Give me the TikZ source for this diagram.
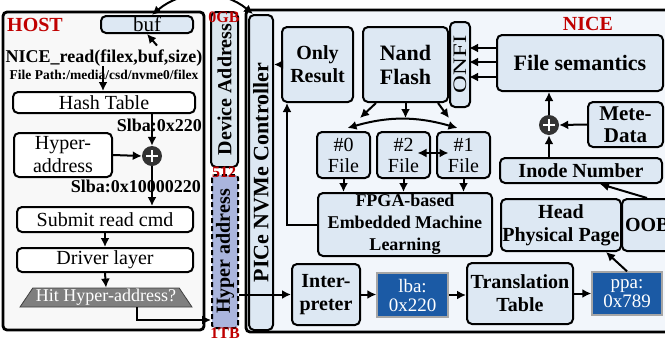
\documentclass[tikz,border=0pt]{standalone}
\usepackage{fontspec}
\setmainfont{Liberation Serif}
\usetikzlibrary{arrows.meta,shapes.geometric,calc}

\definecolor{boxblue}{HTML}{DDE8F3}
\definecolor{devblue}{HTML}{DAE6EE}
\definecolor{hyperblue}{HTML}{AAB5DD}
\definecolor{nicebg}{HTML}{F2F6FB}
\definecolor{hostbg}{HTML}{F8F8F8}
\definecolor{deepblue}{HTML}{1B5AA5}
\definecolor{labelred}{HTML}{C00000}
\definecolor{plusgray}{HTML}{333333}
\definecolor{trapgray}{HTML}{7F7F7F}

\newcommand\fsz[2]{\fontsize{#1}{#2}\selectfont}

\begin{document}
\begin{tikzpicture}[x=1pt,y=-1pt,
  outerbox/.style={draw, line width=2.8pt, rounded corners=4pt, inner sep=0pt},
  bluebox/.style={draw, line width=2pt, rounded corners=5pt, fill=boxblue,
    inner sep=0pt, align=center, font=\bfseries\fsz{20}{23}},
  whitebox/.style={draw, line width=2pt, rounded corners=5pt, fill=white,
    inner sep=0pt, align=center, font=\fsz{20}{23}},
  vbox/.style={draw=black, line width=2pt, rounded corners=5pt, inner sep=0pt,
    rotate=90, font=\bfseries\fsz{20}{22}},
  valbox/.style={draw=gray!70, line width=1.4pt, fill=deepblue, text=white,
    inner sep=0pt, align=center, font=\fsz{19}{19}},
  filebox/.style={bluebox, font=\fsz{20}{21}, minimum width=53, minimum height=46},
  plus/.style={circle, fill=plusgray, minimum size=20pt, inner sep=0pt},
  redlbl/.style={text=labelred, font=\bfseries\fsz{16}{16}, inner sep=0pt},
  txt/.style={inner sep=0pt, font=\bfseries\fsz{18}{18}},
  arr/.style={line width=2pt, -{Latex[length=9pt,width=9pt]}},
  darr/.style={line width=2pt, {Latex[length=9pt,width=9pt]}-{Latex[length=9pt,width=9pt]}},
]
\useasboundingbox (0,0) rectangle (665,341);
\fill[white] (0,0) rectangle (665,341);
\clip (0,0) rectangle (665,341);

% ---------- host side ----------
\node[outerbox, fill=hostbg, minimum width=201, minimum height=318] (host) at (103.5,171) {};
\node[text=labelred, font=\bfseries\fsz{20}{20}, inner sep=0pt, anchor=west] (hostlbl) at (7,25) {HOST};
\node[whitebox, fill=boxblue, font=\fsz{21}{21}, minimum width=92, minimum height=17] (buf) at (147,24.5) {buf};
\node[txt] (readtxt) at (104,58) {NICE\_read(filex,buf,size)};
\node[txt, font=\bfseries\fsz{13.5}{14}] (pathtxt) at (104,75) {File Path:/media/csd/nvme0/filex};
\node[whitebox, minimum width=182, minimum height=21] (hash) at (104,102.5) {Hash Table};
\node[txt, anchor=east] (slba1) at (202,125) {Slba:0x220};
\node[whitebox, font=\fsz{20}{23}, minimum width=98, minimum height=44] (hyper) at (63,155) {Hyper-\\address};
\node[plus] (p1) at (152,156) {};
\node[txt, anchor=east] (slba2) at (201,186) {Slba:0x10000220};
\node[whitebox, minimum width=176, minimum height=25] (submit) at (105,219.5) {Submit read cmd};
\node[whitebox, minimum width=176, minimum height=24] (driver) at (105,260) {Driver layer};
\node[trapezium, trapezium left angle=52, trapezium right angle=52,
  trapezium stretches body, minimum width=172, minimum height=19,
  fill=trapgray, draw=black!75, line width=0.8pt, text=white, inner sep=0pt,
  font=\fsz{18}{18}] (hit) at (106,297.5) {Hit Hyper-address?};

% ---------- address columns ----------
\node[vbox, fill=devblue, minimum width=155, minimum height=27] (devaddr) at (224.5,89.5) {Device Address};
\node[vbox, fill=hyperblue, dashed, dash pattern=on 5pt off 3pt, rounded corners=3pt,
  minimum width=153, minimum height=26] (hyperaddr) at (225,251.5) {Hyper address};
\node[redlbl] (gb0) at (224,17) {0GB};
\node[redlbl] (mid) at (224,172) {512};
\node[redlbl] (tb1) at (225,333) {1TB};

% ---------- device side ----------
\node[outerbox, fill=nicebg, minimum width=444, minimum height=322] (nice) at (468,171) {};
\node[text=labelred, font=\bfseries\fsz{20}{20}, inner sep=0pt] (nicelbl) at (588,24) {NICE};
\node[vbox, fill=boxblue, font=\bfseries\fsz{22}{22}, minimum width=315, minimum height=24] (pcie) at (261,172.5) {PICe NVMe Controller};

\node[bluebox, minimum width=71, minimum height=75] (onlyres) at (317.5,64.5) {Only\\Result};
\node[bluebox, font=\bfseries\fsz{22}{24}, minimum width=85, minimum height=75] (nand) at (405.5,64.5) {Nand\\Flash};
\node[vbox, fill=boxblue, font=\fsz{19}{19}, minimum width=85, minimum height=20] (onfi) at (460,64.5) {\scalebox{1.3}[1]{ONFI}};
\node[bluebox, font=\bfseries\fsz{22}{22}, minimum width=166, minimum height=56] (filesem) at (580,63) {File semantics};
\node[plus] (p2) at (549,125) {};
\node[bluebox, font=\bfseries\fsz{21}{22}, minimum width=75, minimum height=45] (mete) at (625.5,124.5) {Mete-\\Data};
\node[bluebox, minimum width=162, minimum height=25] (inode) at (581,170.5) {Inode Number};

\node[filebox] (f0) at (343.5,155) {\#0\\File};
\node[filebox] (f2) at (403.5,155) {\#2\\File};
\node[filebox] (f1) at (463.5,155) {\#1\\File};
\node[bluebox, font=\bfseries\fsz{18}{22}, minimum width=174, minimum height=63] (fpga) at (405,224.5) {FPGA-based\\Embedded Machine\\Learning};
\node[bluebox, minimum width=120, minimum height=52] (head) at (561,225) {Head\\Physical Page};
\node[bluebox, minimum width=68, minimum height=52, text width=64, align=left] (oob) at (656,225) {\hspace*{1pt}OOB};

\node[bluebox, minimum width=68, minimum height=61] (interp) at (326,294.5) {Inter-\\preter};
\node[valbox, minimum width=71, minimum height=44] (lba) at (412.5,295) {lba:\\0x220};
\node[bluebox, minimum width=106, minimum height=61] (trans) at (520,293.5) {Translation\\Table};
\node[valbox, minimum width=70, minimum height=43] (ppa) at (627,293.5) {ppa:\\0x789};

% plus signs
\foreach \c in {p1,p2}{
  \draw[white, line width=2.6pt] ([xshift=-6pt]\c.center) -- ([xshift=6pt]\c.center);
  \draw[white, line width=2.6pt] ([yshift=-6pt]\c.center) -- ([yshift=6pt]\c.center);
}

% ---------- host connectors ----------
\draw[arr] ([xshift=53pt,yshift=4pt]readtxt.north) -- ([xshift=0pt]buf.south);
\draw[arr] ([xshift=-1pt]readtxt.south) -- ([xshift=-1pt]hash.north);
\draw[arr] (hash.south -| p1) -- (p1.north);
\draw[arr] (hyper.east) -- (p1.west);
\draw[arr] (p1.south) -- (submit.north -| p1);
\draw[arr] (submit.south) -- (driver.north);
\draw[arr] (driver.south) -- (hit.north);
\coordinate (hitturn) at (137,320);
\draw[arr] (hit.south -| hitturn) -- (hitturn) -- (hitturn -| hyperaddr.north);
\draw[darr] ([xshift=5pt]buf.north) to[bend left=40] ([xshift=-8pt]pcie.east);

% ---------- device connectors ----------
\draw[arr] (onlyres.west) -- (onlyres.west -| pcie.south);
\draw[arr] (fpga.west) -| ([xshift=6pt]onlyres.south west);
\draw[arr] ([xshift=14pt]nand.south west) -- ++(-16,15);
\draw[arr] (nand.south) -- ++(0,15);
\draw[arr] ([xshift=-11pt]nand.south east) -- ++(11,15);
\draw[darr] ([xshift=4pt,yshift=3pt]f0.north) to[bend left=16] ([xshift=-6pt,yshift=3pt]f1.north);
\draw[darr] ([xshift=14pt,yshift=2pt]f2.center) -- ([xshift=-15pt,yshift=2pt]f1.center);
\foreach \f in {f0,f2,f1}{
  \draw[arr] (\f.south) -- (\f.south |- fpga.north);
}
\foreach \dy in {15,1,-14}{
  \draw[arr] ([yshift=\dy pt]filesem.west) -- ++(-27,0);
}
\draw[arr] (p2.north) -- (p2 |- filesem.south);
\draw[arr] (mete.west) -- (p2.east);
\draw[arr] (inode.north -| p2) -- (p2.south);
\draw[arr] ([xshift=-9pt]oob.north) -- ([xshift=19pt]inode.south);
\draw[arr] (ppa.north) -- ([xshift=45pt]head.south);
\draw[arr] (hyperaddr.south |- interp.west) -- (interp.west);
\draw[arr] (interp.east) -- (interp.east -| lba.west);
\draw[arr] (lba.east) -- (lba.east -| trans.west);
\draw[arr] (trans.east) -- (trans.east -| ppa.west);
\end{tikzpicture}
\end{document}
